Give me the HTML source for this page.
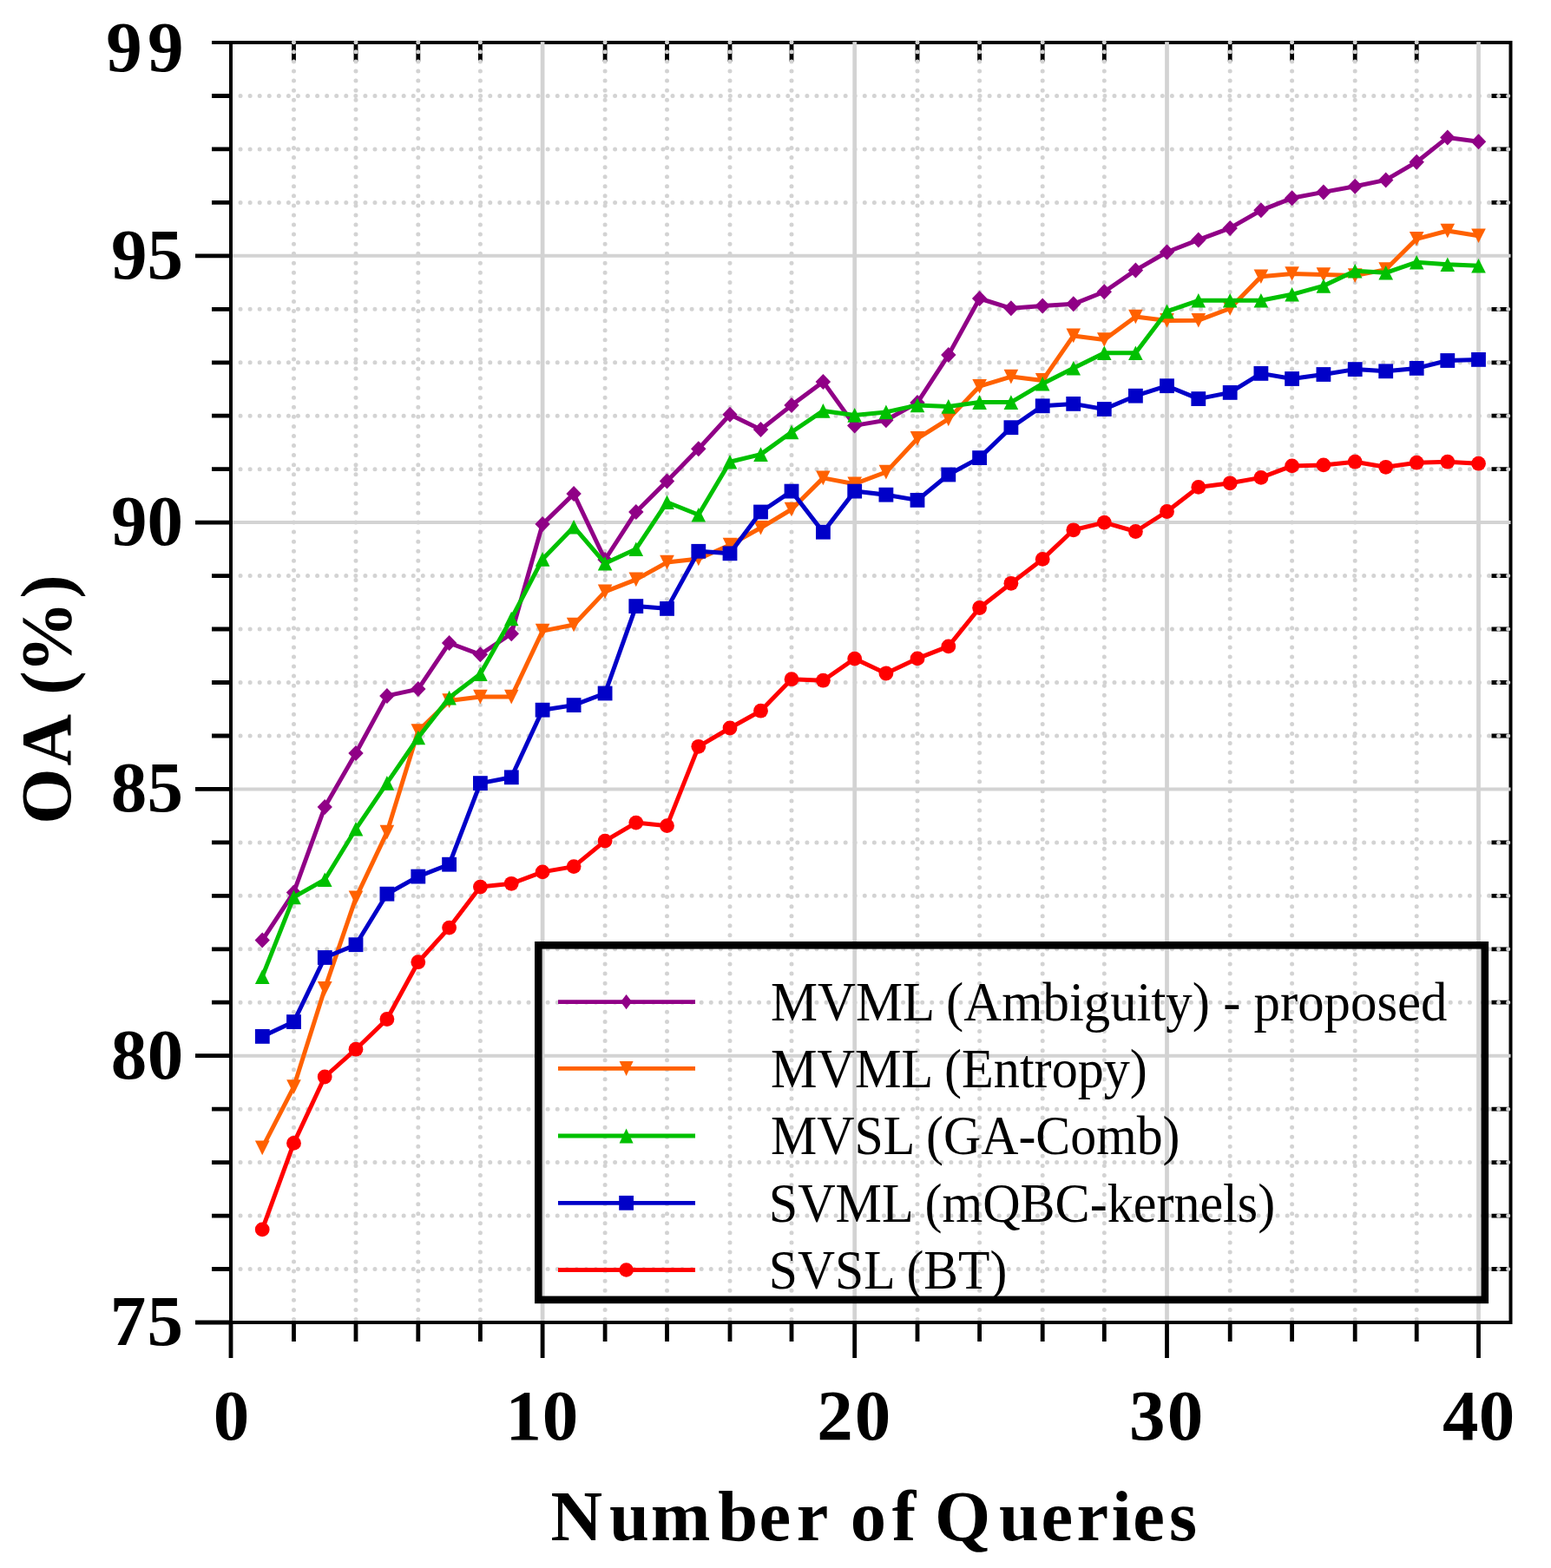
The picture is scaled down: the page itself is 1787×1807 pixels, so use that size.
<!DOCTYPE html>
<html><head><meta charset="utf-8"><title>OA vs Number of Queries</title>
<style>html,body{margin:0;padding:0;background:#fff;overflow:hidden;}svg{display:block;}</style>
</head><body>
<svg width="1787" height="1807" viewBox="0 0 1787 1807">
<defs><clipPath id="gc"><rect x="268" y="46" width="1474" height="1476"/></clipPath></defs>
<rect width="1787" height="1807" fill="#fff"/>
<path d="M225.0 1524.0H266.0M244.0 1462.5H266.0M244.0 1401.1H266.0M244.0 1339.6H266.0M244.0 1278.2H266.0M225.0 1216.7H266.0M244.0 1155.2H266.0M244.0 1093.8H266.0M244.0 1032.3H266.0M244.0 970.9H266.0M225.0 909.4H266.0M244.0 848.0H266.0M244.0 786.5H266.0M244.0 725.0H266.0M244.0 663.6H266.0M225.0 602.1H266.0M244.0 540.7H266.0M244.0 479.2H266.0M244.0 417.8H266.0M244.0 356.3H266.0M225.0 294.8H266.0M244.0 233.4H266.0M244.0 171.9H266.0M244.0 110.5H266.0M1718.5 1462.5H1740.5M1718.5 1401.1H1740.5M1718.5 1339.6H1740.5M1718.5 1278.2H1740.5M1718.5 1155.2H1740.5M1718.5 1093.8H1740.5M1718.5 1032.3H1740.5M1718.5 970.9H1740.5M1718.5 848.0H1740.5M1718.5 786.5H1740.5M1718.5 725.0H1740.5M1718.5 663.6H1740.5M1718.5 540.7H1740.5M1718.5 479.2H1740.5M1718.5 417.8H1740.5M1718.5 356.3H1740.5M1718.5 233.4H1740.5M1718.5 171.9H1740.5M1718.5 110.5H1740.5M266.0 1524.0V1565.0M338.5 1524.0V1546.0M410.0 1524.0V1546.0M481.8 1524.0V1546.0M553.4 1524.0V1546.0M625.1 1524.0V1565.0M697.1 1524.0V1546.0M768.5 1524.0V1546.0M841.0 1524.0V1546.0M912.0 1524.0V1546.0M984.7 1524.0V1565.0M1057.0 1524.0V1546.0M1128.6 1524.0V1546.0M1201.2 1524.0V1546.0M1272.3 1524.0V1546.0M1344.5 1524.0V1565.0M1417.2 1524.0V1546.0M1488.6 1524.0V1546.0M1561.2 1524.0V1546.0M1632.2 1524.0V1546.0M1703.5 1524.0V1565.0M338.5 49.0V71.0M410.0 49.0V71.0M481.8 49.0V71.0M553.4 49.0V71.0M697.1 49.0V71.0M768.5 49.0V71.0M841.0 49.0V71.0M912.0 49.0V71.0M1057.0 49.0V71.0M1128.6 49.0V71.0M1201.2 49.0V71.0M1272.3 49.0V71.0M1417.2 49.0V71.0M1488.6 49.0V71.0M1561.2 49.0V71.0M1632.2 49.0V71.0" stroke="#000" stroke-width="4.8" fill="none"/>
<path d="M266.0 47.0V1526.0M244.0 49.0H1742.5M1740.5 47.0V1526.0M225.0 1524.0H1742.5" stroke="#000" stroke-width="4.0" fill="none"/>
<g clip-path="url(#gc)"><path d="M277.06 1462.5H1742.5M277.06 1401.1H1742.5M277.06 1339.6H1742.5M277.06 1278.2H1742.5M277.06 1155.2H1742.5M277.06 1093.8H1742.5M277.06 1032.3H1742.5M277.06 970.9H1742.5M277.06 848.0H1742.5M277.06 786.5H1742.5M277.06 725.0H1742.5M277.06 663.6H1742.5M277.06 540.7H1742.5M277.06 479.2H1742.5M277.06 417.8H1742.5M277.06 356.3H1742.5M277.06 233.4H1742.5M277.06 171.9H1742.5M277.06 110.5H1742.5M338.5 48.8V1526.0M410.0 48.8V1526.0M481.8 48.8V1526.0M553.4 48.8V1526.0M697.1 48.8V1526.0M768.5 48.8V1526.0M841.0 48.8V1526.0M912.0 48.8V1526.0M1057.0 48.8V1526.0M1128.6 48.8V1526.0M1201.2 48.8V1526.0M1272.3 48.8V1526.0M1417.2 48.8V1526.0M1488.6 48.8V1526.0M1561.2 48.8V1526.0M1632.2 48.8V1526.0" stroke="#d3d3d3" stroke-width="5" stroke-linecap="round" stroke-dasharray="0 11.065" fill="none"/>
<path d="M268 1216.7H1740.5M268 909.4H1740.5M268 602.1H1740.5M268 294.8H1740.5" stroke="#d3d3d3" stroke-width="4.0" fill="none"/>
<path d="M625.1 48.3V1522M984.7 48.3V1522M1344.5 48.3V1522M1703.5 48.3V1522" stroke="#d3d3d3" stroke-width="4.75" fill="none"/></g>
<polyline points="302.2,1083.6 338.5,1028.4 374.2,930.1 410.0,868.0 445.9,801.9 481.8,794.1 517.6,741.0 553.4,754.3 589.2,730.2 625.1,604.1 661.1,569.1 697.1,645.0 732.8,589.9 768.5,554.4 804.8,517.3 841.0,477.8 876.5,495.0 912.0,467.1 948.4,439.9 984.7,490.4 1020.9,484.2 1057.0,464.1 1092.8,409.1 1128.6,344.0 1164.9,355.3 1201.2,352.5 1236.8,350.3 1272.3,336.3 1308.4,311.4 1344.5,290.5 1380.8,276.4 1417.2,262.9 1452.9,242.3 1488.6,228.3 1524.9,221.4 1561.2,214.7 1596.7,207.4 1632.2,186.7 1667.8,158.4 1703.5,163.2" fill="none" stroke="#900086" stroke-width="5.0" stroke-linejoin="round"/>
<g fill="#900086"><path d="M293.6 1083.6L302.2 1074.6L310.9 1083.6L302.2 1092.6Z"/><path d="M329.8 1028.4L338.5 1019.4L347.2 1028.4L338.5 1037.4Z"/><path d="M365.6 930.1L374.2 921.1L382.9 930.1L374.2 939.1Z"/><path d="M401.3 868.0L410.0 859.0L418.7 868.0L410.0 877.0Z"/><path d="M437.2 801.9L445.9 792.9L454.6 801.9L445.9 810.9Z"/><path d="M473.1 794.1L481.8 785.1L490.5 794.1L481.8 803.1Z"/><path d="M508.9 741.0L517.6 732.0L526.3 741.0L517.6 750.0Z"/><path d="M544.7 754.3L553.4 745.3L562.1 754.3L553.4 763.3Z"/><path d="M580.5 730.2L589.2 721.2L598.0 730.2L589.2 739.2Z"/><path d="M616.4 604.1L625.1 595.1L633.8 604.1L625.1 613.1Z"/><path d="M652.4 569.1L661.1 560.1L669.8 569.1L661.1 578.1Z"/><path d="M688.4 645.0L697.1 636.0L705.8 645.0L697.1 654.0Z"/><path d="M724.1 589.9L732.8 580.9L741.5 589.9L732.8 598.9Z"/><path d="M759.8 554.4L768.5 545.4L777.2 554.4L768.5 563.4Z"/><path d="M796.0 517.3L804.8 508.3L813.5 517.3L804.8 526.3Z"/><path d="M832.3 477.8L841.0 468.8L849.7 477.8L841.0 486.8Z"/><path d="M867.8 495.0L876.5 486.0L885.2 495.0L876.5 504.0Z"/><path d="M903.3 467.1L912.0 458.1L920.7 467.1L912.0 476.1Z"/><path d="M939.6 439.9L948.4 430.9L957.1 439.9L948.4 448.9Z"/><path d="M976.0 490.4L984.7 481.4L993.4 490.4L984.7 499.4Z"/><path d="M1012.1 484.2L1020.9 475.2L1029.5 484.2L1020.9 493.2Z"/><path d="M1048.3 464.1L1057.0 455.1L1065.7 464.1L1057.0 473.1Z"/><path d="M1084.1 409.1L1092.8 400.1L1101.5 409.1L1092.8 418.1Z"/><path d="M1119.9 344.0L1128.6 335.0L1137.3 344.0L1128.6 353.0Z"/><path d="M1156.2 355.3L1164.9 346.3L1173.6 355.3L1164.9 364.3Z"/><path d="M1192.5 352.5L1201.2 343.5L1209.9 352.5L1201.2 361.5Z"/><path d="M1228.0 350.3L1236.8 341.3L1245.5 350.3L1236.8 359.3Z"/><path d="M1263.6 336.3L1272.3 327.3L1281.0 336.3L1272.3 345.3Z"/><path d="M1299.7 311.4L1308.4 302.4L1317.1 311.4L1308.4 320.4Z"/><path d="M1335.8 290.5L1344.5 281.5L1353.2 290.5L1344.5 299.5Z"/><path d="M1372.1 276.4L1380.8 267.4L1389.5 276.4L1380.8 285.4Z"/><path d="M1408.5 262.9L1417.2 253.9L1425.9 262.9L1417.2 271.9Z"/><path d="M1444.2 242.3L1452.9 233.3L1461.6 242.3L1452.9 251.3Z"/><path d="M1479.9 228.3L1488.6 219.3L1497.3 228.3L1488.6 237.3Z"/><path d="M1516.2 221.4L1524.9 212.4L1533.6 221.4L1524.9 230.4Z"/><path d="M1552.5 214.7L1561.2 205.7L1569.9 214.7L1561.2 223.7Z"/><path d="M1588.0 207.4L1596.7 198.4L1605.4 207.4L1596.7 216.4Z"/><path d="M1623.5 186.7L1632.2 177.7L1640.9 186.7L1632.2 195.7Z"/><path d="M1659.1 158.4L1667.8 149.4L1676.5 158.4L1667.8 167.4Z"/><path d="M1694.8 163.2L1703.5 154.2L1712.2 163.2L1703.5 172.2Z"/></g>
<polyline points="302.2,1322.9 338.5,1252.6 374.2,1139.4 410.0,1034.9 445.9,959.1 481.8,842.5 517.6,807.6 553.4,803.1 589.2,803.1 625.1,727.1 661.1,720.0 697.1,681.9 732.8,667.9 768.5,648.1 804.8,644.0 841.0,628.0 876.5,608.3 912.0,587.0 948.4,550.9 984.7,557.7 1020.9,544.1 1057.0,505.4 1092.8,482.9 1128.6,445.2 1164.9,434.1 1201.2,438.4 1236.8,386.9 1272.3,391.5 1308.4,365.0 1344.5,369.4 1380.8,369.2 1417.2,355.5 1452.9,318.8 1488.6,315.5 1524.9,316.6 1561.2,317.6 1596.7,310.6 1632.2,275.3 1667.8,266.0 1703.5,271.8" fill="none" stroke="#ff6100" stroke-width="5.0" stroke-linejoin="round"/>
<g fill="#ff6100"><path d="M293.9 1314.6L310.6 1314.6L302.2 1331.2Z"/><path d="M330.2 1244.3L346.8 1244.3L338.5 1260.9Z"/><path d="M365.9 1131.1L382.6 1131.1L374.2 1147.7Z"/><path d="M401.7 1026.6L418.3 1026.6L410.0 1043.2Z"/><path d="M437.6 950.8L454.2 950.8L445.9 967.4Z"/><path d="M473.5 834.2L490.1 834.2L481.8 850.8Z"/><path d="M509.3 799.3L525.9 799.3L517.6 815.9Z"/><path d="M545.1 794.8L561.7 794.8L553.4 811.4Z"/><path d="M581.0 794.8L597.5 794.8L589.2 811.4Z"/><path d="M616.8 718.8L633.4 718.8L625.1 735.4Z"/><path d="M652.8 711.7L669.4 711.7L661.1 728.3Z"/><path d="M688.8 673.6L705.4 673.6L697.1 690.2Z"/><path d="M724.5 659.6L741.1 659.6L732.8 676.2Z"/><path d="M760.2 639.8L776.8 639.8L768.5 656.4Z"/><path d="M796.5 635.7L813.0 635.7L804.8 652.3Z"/><path d="M832.7 619.7L849.3 619.7L841.0 636.3Z"/><path d="M868.2 600.0L884.8 600.0L876.5 616.6Z"/><path d="M903.7 578.7L920.3 578.7L912.0 595.3Z"/><path d="M940.1 542.6L956.6 542.6L948.4 559.2Z"/><path d="M976.4 549.4L993.0 549.4L984.7 566.0Z"/><path d="M1012.6 535.8L1029.2 535.8L1020.9 552.4Z"/><path d="M1048.7 497.1L1065.3 497.1L1057.0 513.7Z"/><path d="M1084.5 474.6L1101.1 474.6L1092.8 491.2Z"/><path d="M1120.3 436.9L1136.9 436.9L1128.6 453.5Z"/><path d="M1156.6 425.8L1173.2 425.8L1164.9 442.4Z"/><path d="M1192.9 430.1L1209.5 430.1L1201.2 446.7Z"/><path d="M1228.5 378.6L1245.0 378.6L1236.8 395.2Z"/><path d="M1264.0 383.2L1280.6 383.2L1272.3 399.8Z"/><path d="M1300.1 356.7L1316.7 356.7L1308.4 373.3Z"/><path d="M1336.2 361.1L1352.8 361.1L1344.5 377.7Z"/><path d="M1372.5 360.9L1389.1 360.9L1380.8 377.5Z"/><path d="M1408.9 347.2L1425.5 347.2L1417.2 363.8Z"/><path d="M1444.6 310.5L1461.2 310.5L1452.9 327.1Z"/><path d="M1480.3 307.2L1496.9 307.2L1488.6 323.8Z"/><path d="M1516.6 308.3L1533.2 308.3L1524.9 324.9Z"/><path d="M1552.9 309.3L1569.5 309.3L1561.2 325.9Z"/><path d="M1588.4 302.3L1605.0 302.3L1596.7 318.9Z"/><path d="M1623.9 267.0L1640.5 267.0L1632.2 283.6Z"/><path d="M1659.5 257.7L1676.1 257.7L1667.8 274.3Z"/><path d="M1695.2 263.5L1711.8 263.5L1703.5 280.1Z"/></g>
<polyline points="302.2,1125.6 338.5,1033.9 374.2,1013.8 410.0,955.3 445.9,902.4 481.8,850.0 517.6,804.1 553.4,776.7 589.2,713.0 625.1,644.4 661.1,607.2 697.1,649.2 732.8,632.7 768.5,578.8 804.8,593.2 841.0,532.2 876.5,523.6 912.0,498.0 948.4,473.4 984.7,478.4 1020.9,474.9 1057.0,466.9 1092.8,468.4 1128.6,463.6 1164.9,463.6 1201.2,442.2 1236.8,424.2 1272.3,406.8 1308.4,406.8 1344.5,358.9 1380.8,346.3 1417.2,346.3 1452.9,346.3 1488.6,339.3 1524.9,329.4 1561.2,312.2 1596.7,314.3 1632.2,302.2 1667.8,304.7 1703.5,306.3" fill="none" stroke="#00c000" stroke-width="5.0" stroke-linejoin="round"/>
<g fill="#00c000"><path d="M293.9 1133.9L310.6 1133.9L302.2 1117.3Z"/><path d="M330.2 1042.2L346.8 1042.2L338.5 1025.6Z"/><path d="M365.9 1022.1L382.6 1022.1L374.2 1005.5Z"/><path d="M401.7 963.6L418.3 963.6L410.0 947.0Z"/><path d="M437.6 910.7L454.2 910.7L445.9 894.1Z"/><path d="M473.5 858.3L490.1 858.3L481.8 841.7Z"/><path d="M509.3 812.4L525.9 812.4L517.6 795.8Z"/><path d="M545.1 785.0L561.7 785.0L553.4 768.4Z"/><path d="M581.0 721.3L597.5 721.3L589.2 704.7Z"/><path d="M616.8 652.7L633.4 652.7L625.1 636.1Z"/><path d="M652.8 615.5L669.4 615.5L661.1 598.9Z"/><path d="M688.8 657.5L705.4 657.5L697.1 640.9Z"/><path d="M724.5 641.0L741.1 641.0L732.8 624.4Z"/><path d="M760.2 587.1L776.8 587.1L768.5 570.5Z"/><path d="M796.5 601.5L813.0 601.5L804.8 584.9Z"/><path d="M832.7 540.5L849.3 540.5L841.0 523.9Z"/><path d="M868.2 531.9L884.8 531.9L876.5 515.3Z"/><path d="M903.7 506.3L920.3 506.3L912.0 489.7Z"/><path d="M940.1 481.7L956.6 481.7L948.4 465.1Z"/><path d="M976.4 486.7L993.0 486.7L984.7 470.1Z"/><path d="M1012.6 483.2L1029.2 483.2L1020.9 466.6Z"/><path d="M1048.7 475.2L1065.3 475.2L1057.0 458.6Z"/><path d="M1084.5 476.7L1101.1 476.7L1092.8 460.1Z"/><path d="M1120.3 471.9L1136.9 471.9L1128.6 455.3Z"/><path d="M1156.6 471.9L1173.2 471.9L1164.9 455.3Z"/><path d="M1192.9 450.5L1209.5 450.5L1201.2 433.9Z"/><path d="M1228.5 432.5L1245.0 432.5L1236.8 415.9Z"/><path d="M1264.0 415.1L1280.6 415.1L1272.3 398.5Z"/><path d="M1300.1 415.1L1316.7 415.1L1308.4 398.5Z"/><path d="M1336.2 367.2L1352.8 367.2L1344.5 350.6Z"/><path d="M1372.5 354.6L1389.1 354.6L1380.8 338.0Z"/><path d="M1408.9 354.6L1425.5 354.6L1417.2 338.0Z"/><path d="M1444.6 354.6L1461.2 354.6L1452.9 338.0Z"/><path d="M1480.3 347.6L1496.9 347.6L1488.6 331.0Z"/><path d="M1516.6 337.7L1533.2 337.7L1524.9 321.1Z"/><path d="M1552.9 320.5L1569.5 320.5L1561.2 303.9Z"/><path d="M1588.4 322.6L1605.0 322.6L1596.7 306.0Z"/><path d="M1623.9 310.5L1640.5 310.5L1632.2 293.9Z"/><path d="M1659.5 313.0L1676.1 313.0L1667.8 296.4Z"/><path d="M1695.2 314.6L1711.8 314.6L1703.5 298.0Z"/></g>
<polyline points="302.2,1194.4 338.5,1177.6 374.2,1103.5 410.0,1088.7 445.9,1030.2 481.8,1010.1 517.6,996.2 553.4,902.6 589.2,895.8 625.1,818.2 661.1,812.6 697.1,799.0 732.8,698.6 768.5,701.4 804.8,635.3 841.0,637.8 876.5,590.0 912.0,566.1 948.4,613.2 984.7,566.1 1020.9,570.2 1057.0,576.4 1092.8,547.0 1128.6,527.6 1164.9,492.7 1201.2,467.8 1236.8,465.4 1272.3,471.5 1308.4,456.2 1344.5,444.7 1380.8,459.6 1417.2,452.4 1452.9,430.4 1488.6,436.5 1524.9,431.5 1561.2,425.6 1596.7,427.8 1632.2,424.4 1667.8,415.5 1703.5,414.4" fill="none" stroke="#0000c8" stroke-width="5.0" stroke-linejoin="round"/>
<g fill="#0000c8"><rect x="293.9" y="1186.0" width="16.8" height="16.8"/><rect x="330.1" y="1169.2" width="16.8" height="16.8"/><rect x="365.9" y="1095.1" width="16.8" height="16.8"/><rect x="401.6" y="1080.3" width="16.8" height="16.8"/><rect x="437.5" y="1021.8" width="16.8" height="16.8"/><rect x="473.4" y="1001.7" width="16.8" height="16.8"/><rect x="509.2" y="987.8" width="16.8" height="16.8"/><rect x="545.0" y="894.2" width="16.8" height="16.8"/><rect x="580.9" y="887.4" width="16.8" height="16.8"/><rect x="616.7" y="809.8" width="16.8" height="16.8"/><rect x="652.7" y="804.2" width="16.8" height="16.8"/><rect x="688.7" y="790.6" width="16.8" height="16.8"/><rect x="724.4" y="690.2" width="16.8" height="16.8"/><rect x="760.1" y="693.0" width="16.8" height="16.8"/><rect x="796.4" y="626.9" width="16.8" height="16.8"/><rect x="832.6" y="629.4" width="16.8" height="16.8"/><rect x="868.1" y="581.6" width="16.8" height="16.8"/><rect x="903.6" y="557.7" width="16.8" height="16.8"/><rect x="940.0" y="604.8" width="16.8" height="16.8"/><rect x="976.3" y="557.7" width="16.8" height="16.8"/><rect x="1012.5" y="561.8" width="16.8" height="16.8"/><rect x="1048.6" y="568.0" width="16.8" height="16.8"/><rect x="1084.4" y="538.6" width="16.8" height="16.8"/><rect x="1120.2" y="519.2" width="16.8" height="16.8"/><rect x="1156.5" y="484.3" width="16.8" height="16.8"/><rect x="1192.8" y="459.4" width="16.8" height="16.8"/><rect x="1228.3" y="457.0" width="16.8" height="16.8"/><rect x="1263.9" y="463.1" width="16.8" height="16.8"/><rect x="1300.0" y="447.8" width="16.8" height="16.8"/><rect x="1336.1" y="436.3" width="16.8" height="16.8"/><rect x="1372.4" y="451.2" width="16.8" height="16.8"/><rect x="1408.8" y="444.0" width="16.8" height="16.8"/><rect x="1444.5" y="422.0" width="16.8" height="16.8"/><rect x="1480.2" y="428.1" width="16.8" height="16.8"/><rect x="1516.5" y="423.1" width="16.8" height="16.8"/><rect x="1552.8" y="417.2" width="16.8" height="16.8"/><rect x="1588.3" y="419.4" width="16.8" height="16.8"/><rect x="1623.8" y="416.0" width="16.8" height="16.8"/><rect x="1659.4" y="407.1" width="16.8" height="16.8"/><rect x="1695.1" y="406.0" width="16.8" height="16.8"/></g>
<polyline points="302.2,1416.9 338.5,1317.4 374.2,1241.0 410.0,1209.2 445.9,1174.5 481.8,1108.7 517.6,1069.1 553.4,1022.1 589.2,1018.3 625.1,1004.9 661.1,998.6 697.1,969.1 732.8,948.1 768.5,951.6 804.8,860.3 841.0,839.0 876.5,819.2 912.0,782.7 948.4,784.2 984.7,759.1 1020.9,776.0 1057.0,758.9 1092.8,744.9 1128.6,700.5 1164.9,672.3 1201.2,644.4 1236.8,610.8 1272.3,602.1 1308.4,612.5 1344.5,589.5 1380.8,561.4 1417.2,556.8 1452.9,550.4 1488.6,536.9 1524.9,535.9 1561.2,532.2 1596.7,538.3 1632.2,533.2 1667.8,532.2 1703.5,534.2" fill="none" stroke="#ff0000" stroke-width="5.0" stroke-linejoin="round"/>
<g fill="#ff0000"><circle cx="302.2" cy="1416.9" r="8.4"/><circle cx="338.5" cy="1317.4" r="8.4"/><circle cx="374.2" cy="1241.0" r="8.4"/><circle cx="410.0" cy="1209.2" r="8.4"/><circle cx="445.9" cy="1174.5" r="8.4"/><circle cx="481.8" cy="1108.7" r="8.4"/><circle cx="517.6" cy="1069.1" r="8.4"/><circle cx="553.4" cy="1022.1" r="8.4"/><circle cx="589.2" cy="1018.3" r="8.4"/><circle cx="625.1" cy="1004.9" r="8.4"/><circle cx="661.1" cy="998.6" r="8.4"/><circle cx="697.1" cy="969.1" r="8.4"/><circle cx="732.8" cy="948.1" r="8.4"/><circle cx="768.5" cy="951.6" r="8.4"/><circle cx="804.8" cy="860.3" r="8.4"/><circle cx="841.0" cy="839.0" r="8.4"/><circle cx="876.5" cy="819.2" r="8.4"/><circle cx="912.0" cy="782.7" r="8.4"/><circle cx="948.4" cy="784.2" r="8.4"/><circle cx="984.7" cy="759.1" r="8.4"/><circle cx="1020.9" cy="776.0" r="8.4"/><circle cx="1057.0" cy="758.9" r="8.4"/><circle cx="1092.8" cy="744.9" r="8.4"/><circle cx="1128.6" cy="700.5" r="8.4"/><circle cx="1164.9" cy="672.3" r="8.4"/><circle cx="1201.2" cy="644.4" r="8.4"/><circle cx="1236.8" cy="610.8" r="8.4"/><circle cx="1272.3" cy="602.1" r="8.4"/><circle cx="1308.4" cy="612.5" r="8.4"/><circle cx="1344.5" cy="589.5" r="8.4"/><circle cx="1380.8" cy="561.4" r="8.4"/><circle cx="1417.2" cy="556.8" r="8.4"/><circle cx="1452.9" cy="550.4" r="8.4"/><circle cx="1488.6" cy="536.9" r="8.4"/><circle cx="1524.9" cy="535.9" r="8.4"/><circle cx="1561.2" cy="532.2" r="8.4"/><circle cx="1596.7" cy="538.3" r="8.4"/><circle cx="1632.2" cy="533.2" r="8.4"/><circle cx="1667.8" cy="532.2" r="8.4"/><circle cx="1703.5" cy="534.2" r="8.4"/></g>
<rect x="620.3" y="1089.3" width="1090.5" height="408.6" fill="none" stroke="#000" stroke-width="8.6"/>
<path d="M643 1154.6H801" stroke="#900086" stroke-width="4.8"/>
<g fill="#900086"><path d="M715.1 1154.6L721.6 1146.0L728.1 1154.6L721.6 1163.2Z"/></g>
<text transform="translate(888.05 1175.8) scale(0.9679 1)" font-family="Liberation Serif, serif" font-size="62.8">MVML (Ambiguity) - proposed</text>
<path d="M643 1231.4H801" stroke="#ff6100" stroke-width="4.8"/>
<g fill="#ff6100"><path d="M713.6 1222.9L729.6 1222.9L721.6 1239.9Z"/></g>
<text transform="translate(888.07 1252.6) scale(0.9581 1)" font-family="Liberation Serif, serif" font-size="62.8">MVML (Entropy)</text>
<path d="M643 1309.0H801" stroke="#00c000" stroke-width="4.8"/>
<g fill="#00c000"><path d="M713.6 1317.5L729.6 1317.5L721.6 1300.5Z"/></g>
<text transform="translate(888.08 1330.2) scale(0.9529 1)" font-family="Liberation Serif, serif" font-size="62.8">MVSL (GA-Comb)</text>
<path d="M643 1386.3H801" stroke="#0000c8" stroke-width="4.8"/>
<g fill="#0000c8"><rect x="713.2" y="1377.9" width="16.8" height="16.8"/></g>
<text transform="translate(885.78 1407.5) scale(0.9568 1)" font-family="Liberation Serif, serif" font-size="62.8">SVML (mQBC-kernels)</text>
<path d="M643 1463.5H801" stroke="#ff0000" stroke-width="4.8"/>
<g fill="#ff0000"><circle cx="721.6" cy="1463.5" r="8.3"/></g>
<text transform="translate(885.81 1484.7) scale(0.9501 1)" font-family="Liberation Serif, serif" font-size="62.8">SVSL (BT)</text>
<text x="122.16 170.06" y="82.30" font-family="Liberation Serif, serif" font-weight="bold" font-size="83.0">99</text>
<text x="128.06 169.56" y="320.63" font-family="Liberation Serif, serif" font-weight="bold" font-size="83.0">95</text>
<text x="128.06 169.60" y="627.92" font-family="Liberation Serif, serif" font-weight="bold" font-size="83.0">90</text>
<text x="127.70 169.56" y="935.22" font-family="Liberation Serif, serif" font-weight="bold" font-size="83.0">85</text>
<text x="127.70 169.70" y="1242.51" font-family="Liberation Serif, serif" font-weight="bold" font-size="83.0">80</text>
<text x="126.84 169.56" y="1549.80" font-family="Liberation Serif, serif" font-weight="bold" font-size="83.0">75</text>
<text x="245.70" y="1659.00" font-family="Liberation Serif, serif" font-weight="bold" font-size="83.0">0</text>
<text x="582.47 624.80" y="1659.00" font-family="Liberation Serif, serif" font-weight="bold" font-size="83.0">10</text>
<text x="941.29 984.80" y="1659.00" font-family="Liberation Serif, serif" font-weight="bold" font-size="83.0">20</text>
<text x="1301.11 1344.80" y="1659.00" font-family="Liberation Serif, serif" font-weight="bold" font-size="83.0">30</text>
<text x="1661.90 1703.75" y="1659.00" font-family="Liberation Serif, serif" font-weight="bold" font-size="83.0">40</text>
<text y="1774.8" font-family="Liberation Serif, serif" font-weight="bold" font-size="82.5"><tspan x="634.5 702.1 749.8 827.2 874.6 917.8">Number</tspan> <tspan x="979.7 1027.7">of</tspan> <tspan x="1076.9 1150.9 1199.4 1240.4 1280.8 1305.2 1347.1">Queries</tspan></text>
<text transform="translate(80.9 0) rotate(-90)" font-family="Liberation Serif, serif" font-weight="bold" font-size="82.5"><tspan x="-949.7 -882.6">OA</tspan> <tspan x="-800.7 -775.5 -689.7">(%)</tspan></text>
</svg>
</body></html>
